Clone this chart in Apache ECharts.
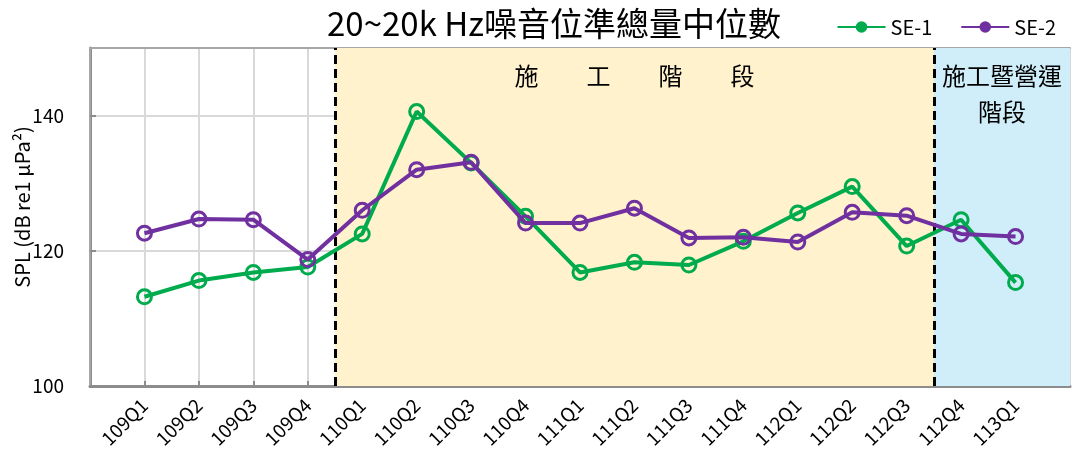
<!DOCTYPE html>
<html>
<head>
<meta charset="utf-8">
<script src="https://cdn.jsdelivr.net/npm/echarts@6/dist/echarts.min.js"></script>
<style>
  html, body { margin: 0; padding: 0; background: #fff; }
  #chart { width: 1075px; height: 464px; }
</style>
</head>
<body>
<div id="chart"></div>
<script>
// Quarterly categories (ROC calendar years)
const categories = ['109Q1', '109Q2', '109Q3', '109Q4', '110Q1', '110Q2', '110Q3', '110Q4',
  '111Q1', '111Q2', '111Q3', '111Q4', '112Q1', '112Q2', '112Q3', '112Q4', '113Q1'];

// Median broadband SPL, 20 Hz – 20 kHz (dB re 1 μPa)
const se1 = [113.2, 115.6, 116.8, 117.6, 122.5, 140.6, 133.0, 125.1,
  116.8, 118.3, 117.9, 121.4, 125.6, 129.5, 120.7, 124.6, 115.3];
const se2 = [122.6, 124.7, 124.6, 118.7, 126.0, 132.0, 133.1, 124.1,
  124.1, 126.3, 121.9, 122.0, 121.3, 125.7, 125.2, 122.5, 122.1];

const yTicks = [100, 120, 140];

// Project phases, given by their first and last quarter
const phases = [
  { label: '施\u3000\u3000工\u3000\u3000階\u3000\u3000段', first: '110Q1', last: '112Q3', color: '#FFF2CC' },
  { label: '施工暨營運\n階段', first: '112Q4', last: '113Q1', color: '#CFEEF9' }
];

const xMax = categories.length + 1;
const pos = c => categories.indexOf(c) + 1;
const phaseStart = p => pos(p.first) - 0.5;
const phaseEnd = p => (p.last === categories[categories.length - 1] ? xMax : pos(p.last) + 0.5);

const GREEN = '#00AB4E';
const PURPLE = '#7030A0';
const FONT = '"Noto Sans CJK TC", "Noto Sans", sans-serif';

function lineSeries(name, values, color, extra) {
  return Object.assign({
    name: name,
    type: 'line',
    data: values.map((v, i) => [i + 1, v]),
    symbol: 'circle',
    symbolSize: 14,
    lineStyle: { color: color, width: 4 },
    itemStyle: { color: 'rgba(0,0,0,0)', borderColor: color, borderWidth: 3 },
    emphasis: { disabled: true },
    z: 5
  }, extra || {});
}

const chart = echarts.init(document.getElementById('chart'), null, { renderer: 'canvas' });

chart.setOption({
  animation: false,
  backgroundColor: '#fff',
  textStyle: { fontFamily: FONT },
  title: {
    text: '20~20k Hz噪音位準總量中位數',
    left: 549,
    textAlign: 'center',
    top: 2,
    textStyle: { fontFamily: FONT, fontSize: 33, fontWeight: 'normal', color: '#000' }
  },
  legend: {
    right: 14,
    top: 12,
    itemWidth: 48,
    itemHeight: 12,
    itemGap: 28,
    textStyle: { fontFamily: FONT, fontSize: 20, color: '#000' },
    data: [
      { name: 'SE-1', itemStyle: { color: GREEN, borderColor: GREEN } },
      { name: 'SE-2', itemStyle: { color: PURPLE, borderColor: PURPLE } }
    ]
  },
  grid: { left: 90, right: 5, top: 48, bottom: 78, outerBoundsMode: 'none', containLabel: false },
  xAxis: [
    {
      type: 'value',
      min: 0,
      max: xMax,
      interval: 1,
      axisLine: { show: true, onZero: false, lineStyle: { color: '#8c8c8c', width: 3 } },
      axisTick: { show: true, inside: true, length: 5, lineStyle: { color: '#8c8c8c', width: 2 } },
      splitLine: { show: true, lineStyle: { color: '#d9d9d9', width: 2 } },
      axisLabel: {
        rotate: 45,
        margin: 16,
        fontSize: 19,
        color: '#000',
        fontFamily: FONT,
        showMinLabel: false,
        showMaxLabel: false,
        formatter: v => categories[v - 1] || ''
      }
    },
    {
      type: 'value',
      position: 'top',
      min: 0,
      max: xMax,
      axisLine: { show: true, lineStyle: { color: '#a6a6a6', width: 2 } },
      axisTick: { show: false },
      axisLabel: { show: false },
      splitLine: { show: false }
    }
  ],
  yAxis: [
    {
      type: 'value',
      min: 100,
      max: 150,
      interval: 20,
      name: 'SPL (dB re1 μPa²)',
      nameLocation: 'middle',
      nameGap: 58,
      nameMoveOverlap: false,
      nameTextStyle: { fontFamily: FONT, fontSize: 20, color: '#000', padding: [0, 0, 0, 20] },
      axisLine: { show: true, lineStyle: { color: '#8c8c8c', width: 3 } },
      axisTick: { show: true, inside: true, length: 6, lineStyle: { color: '#8c8c8c', width: 2 } },
      splitLine: { show: true, lineStyle: { color: '#d9d9d9', width: 2 } },
      axisLabel: {
        fontSize: 19,
        color: '#000',
        margin: 26,
        fontFamily: FONT,
        showMaxLabel: false,
        formatter: v => (yTicks.indexOf(v) >= 0 ? String(v) : '')
      }
    },
    {
      type: 'value',
      position: 'right',
      min: 100,
      max: 150,
      axisLine: { show: true, lineStyle: { color: '#a6a6a6', width: 2 } },
      axisTick: { show: false },
      axisLabel: { show: false },
      splitLine: { show: false }
    }
  ],
  series: [
    lineSeries('SE-1', se1, GREEN, {
      markArea: {
        silent: true,
        z: 1,
        label: {
          position: 'insideTop',
          distance: 10,
          fontFamily: FONT,
          fontSize: 24,
          lineHeight: 36,
          color: '#000',
          align: 'center'
        },
        data: phases.map(p => [
          { name: p.label, xAxis: phaseStart(p), itemStyle: { color: p.color } },
          { xAxis: phaseEnd(p) }
        ])
      },
      markLine: {
        silent: true,
        symbol: 'none',
        label: { show: false },
        lineStyle: { color: '#000', width: 3, type: [9, 5] },
        data: phases.map(p => ({ xAxis: phaseStart(p) }))
      }
    }),
    lineSeries('SE-2', se2, PURPLE, { z: 6 })
  ]
});
</script>
</body>
</html>
